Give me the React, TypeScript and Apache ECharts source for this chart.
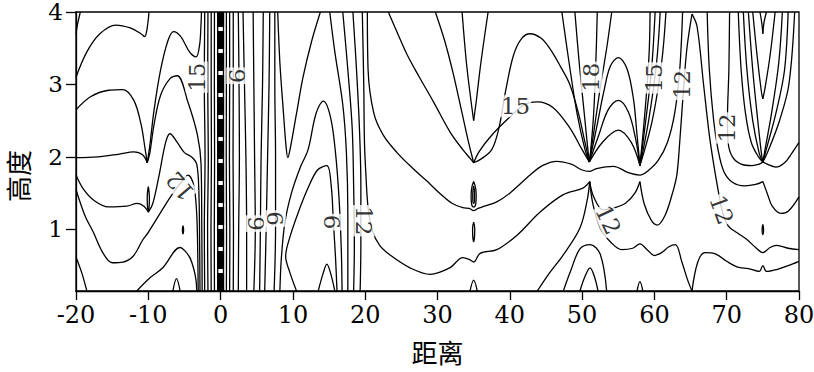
import { useEffect, useRef } from "react";
import * as echarts from "echarts";

type Pt = [number, number];

const xTickValues = [-20, -10, 0, 10, 20, 30, 40, 50, 60, 70, 80];
const yTickValues = [1, 2, 3, 4];
const xRange: Pt = [-20, 80];
const yRange: Pt = [0.15, 4];

// x < -2.5 : left side lines
const leftLines: Pt[][] = [
  [[-19.4, 4], [-19.75, 3.85], [-20, 3.7]],
  [[-20, 3.1], [-18.5, 3.45], [-16.7, 3.7], [-14.5, 3.82], [-12.5, 3.78], [-11, 3.7], [-10.5, 3.66], [-10.2, 3.75], [-9.9, 4]],
  [[-20, 2.65], [-18, 2.83], [-15.5, 2.92], [-13.5, 2.93], [-12, 2.78], [-11, 2.45], [-10.5, 2.15], [-10.15, 1.92]],
  [[-10.15, 1.92], [-9.8, 2.15], [-9.2, 2.65], [-8.3, 3.2], [-7.3, 3.6], [-6.5, 3.73], [-5.5, 3.66], [-4.3, 3.45], [-3.4, 3.38], [-2.9, 3.55], [-2.7, 3.85], [-2.65, 4]],
  [[-20, 1.99], [-17, 2.0], [-14, 2.04], [-12, 2.07], [-10.8, 2.03], [-10.15, 1.92]],
  [[-10.15, 1.92], [-9.8, 2.05], [-9.2, 2.45], [-8.3, 2.85], [-7, 3.08], [-6, 3.12], [-4.5, 2.75], [-3.2, 2.3], [-2.7, 1.9], [-2.6, 1.0], [-2.55, 0.15]],
  [[-20, 1.75], [-19, 1.56], [-17.5, 1.4], [-15.5, 1.31], [-13, 1.32], [-11.5, 1.36], [-10.6, 1.32], [-10, 1.24]],
  [[-10, 1.24], [-9.4, 1.35], [-8.5, 1.75], [-7.6, 2.2], [-7, 2.32], [-6, 2.2], [-5, 2.06], [-4, 2.0], [-3.3, 1.9], [-3.0, 1.5], [-2.9, 0.8], [-2.85, 0.15]],
  [[-20, 1.55], [-18.8, 1.2], [-17.6, 0.96], [-16.3, 0.68], [-15, 0.54], [-13.5, 0.55], [-12.1, 0.63], [-10.8, 0.85], [-10, 0.96], [-8.5, 1.2], [-7, 1.44], [-5.6, 1.63], [-4.5, 1.75], [-3.7, 1.6], [-3.3, 1.2], [-3.15, 0.6], [-3.1, 0.15]],
  [[-20, 0.62], [-19.2, 0.4], [-18.5, 0.15]],
  [[-11.6, 0.15], [-9.8, 0.33], [-8, 0.47], [-5.6, 0.75], [-4.9, 0.7], [-4.2, 0.6], [-3.7, 0.45], [-3.4, 0.3], [-3.3, 0.15]],
  [[-6.6, 0.15], [-6.1, 0.32], [-5.6, 0.15]],
];

// dense bundle around x = 0
const bundleLines: Pt[][] = [
  [[-2.2, 0.15], [-2.25, 1], [-2.15, 2], [-2.25, 3], [-2.2, 4]],
  [[-1.75, 0.15], [-1.8, 1], [-1.7, 2], [-1.78, 3], [-1.75, 4]],
  [[-1.3, 0.15], [-1.33, 1], [-1.27, 2], [-1.3, 3], [-1.3, 4]],
  [[-0.85, 0.15], [-0.87, 1], [-0.83, 2], [-0.86, 3], [-0.85, 4]],
  [[-0.4, 0.15], [-0.4, 2], [-0.4, 4]],
  [[0.4, 0.15], [0.4, 2], [0.4, 4]],
  [[0.8, 0.15], [0.82, 1], [0.78, 2], [0.8, 3], [0.8, 4]],
  [[1.25, 0.15], [1.28, 1], [1.22, 2], [1.25, 3], [1.25, 4]],
  [[1.75, 0.15], [1.78, 1], [1.72, 2], [1.75, 3], [1.75, 4]],
];
const ridgeLine: Pt[] = [[0, 0.15], [0, 4]];

// 2 < x < 21
const midLines: Pt[][] = [
  [[2.45, 4], [2.55, 3], [2.6, 2], [2.5, 1], [2.45, 0.15]],
  [[3.1, 4], [3.3, 3], [3.5, 2], [3.6, 1], [3.6, 0.15]],
  [[4.5, 4], [4.6, 3], [4.7, 2], [4.8, 1], [4.6, 0.15]],
  [[5.9, 4], [5.8, 3], [5.6, 2], [5.5, 1], [5.4, 0.15]],
  [[6.8, 4], [6.7, 3], [6.5, 2], [6.3, 1], [6.1, 0.15]],
  [[7.5, 4], [7.5, 3], [7.6, 2], [7.6, 1], [7.4, 0.15]],
  [[7.9, 4], [8.2, 3.3], [8.7, 2.6], [9.05, 2.15], [9.3, 1.99], [9.6, 2.1], [10.5, 2.6], [11.4, 3.1], [12.6, 3.6], [13.8, 4]],
  [[8.2, 0.15], [8.4, 0.6], [8.9, 1.1], [9.8, 1.5], [11, 1.85], [12.1, 2.1], [13.2, 2.6], [14.2, 2.77], [15.2, 2.55], [15.9, 2.05], [16.4, 1.4], [16.7, 0.7], [16.8, 0.15]],
  [[10.5, 0.15], [9.6, 0.4], [9.0, 0.63], [9.6, 0.9], [10.8, 1.25], [12, 1.55], [13.4, 1.82], [14.7, 1.88], [15.3, 1.6], [15.6, 1.1], [15.9, 0.6], [16.1, 0.15]],
  [[13.5, 0.15], [14.2, 0.4], [14.7, 0.52], [15.2, 0.4], [15.8, 0.15]],
  [[15.1, 4], [15.8, 3.45], [16.9, 2.72], [17.4, 2.06], [17.6, 1.2], [17.6, 0.15]],
  [[16.9, 4], [17.6, 3.2], [18.2, 2.4], [18.4, 1.6], [18.5, 0.8], [18.4, 0.15]],
  [[18.3, 4], [18.8, 3.2], [19.2, 2.4], [19.4, 1.6], [19.4, 0.8], [19.3, 0.15]],
];

// contour 12 running from x = 20 to the cusp at 51 and on to 80
const line12: Pt[] = [[19.6, 4], [19.8, 3.0], [19.9, 2.2], [20.1, 1.75], [20.4, 1.3], [21, 0.98], [22, 0.78], [23.4, 0.65], [26.2, 0.47], [29, 0.38], [31.7, 0.47], [33.5, 0.61], [34.5, 0.58], [35, 0.55], [35.9, 0.67], [38.2, 0.72], [41, 0.92], [44.2, 1.24], [47.4, 1.48], [50.1, 1.57], [51.05, 1.66]];
const line12b: Pt[] = [[51.05, 1.66], [51.6, 1.45], [52.9, 1.27], [54.5, 1.3], [56, 1.36], [57.3, 1.5], [58, 1.66]];
const line12c: Pt[] = [[58, 1.66], [58.6, 1.35], [59.6, 1.12], [60.4, 1.06], [61.5, 1.2], [62.5, 1.5], [63.1, 1.75], [63.5, 2.2], [64, 2.9], [64.5, 3.5], [65.2, 3.97]];
const line12d: Pt[] = [[65.2, 3.97], [65.9, 3.8], [66.8, 3.0], [67.6, 2.3], [68.2, 1.9], [68.8, 1.55], [69.4, 1.25], [70.2, 1.05], [71.5, 0.95], [72.8, 0.86], [74, 0.75], [75, 0.68], [76, 0.75], [76.9, 0.78], [78.5, 0.74], [80, 0.72]];

// line passing below the cusps from x = 20
const lineUnder: Pt[] = [[20.3, 4], [20.4, 3.2], [21.2, 2.6], [22.5, 2.3], [24.4, 2.06], [26.5, 1.85], [28.5, 1.67], [30.3, 1.5], [32, 1.36], [33.5, 1.3], [34.4, 1.29], [35, 1.26], [35.6, 1.29], [36.5, 1.32], [38.2, 1.38], [40, 1.5], [42.8, 1.75], [44.5, 1.88], [46.5, 1.94], [48.5, 1.9], [50, 1.82], [51, 1.8], [52, 1.84], [54.3, 1.87], [56.5, 1.78], [58, 1.75], [59, 1.8], [60.5, 1.95], [61.8, 2.2], [62.8, 2.6], [63.5, 3.2], [63.9, 4]];

// cusp at x = 35
const cusp35Lines: Pt[][] = [
  [[23.2, 4], [24.5, 3.7], [25.8, 3.41], [27.5, 3.1], [29.5, 2.75], [31.7, 2.35], [33.5, 2.1], [34.6, 1.97], [35, 1.92]],
  [[29.7, 4], [31, 3.6], [32.1, 3.18], [33.3, 2.65], [34.3, 2.2], [35, 1.92]],
  [[33.4, 4], [34, 3.3], [34.6, 2.8], [35, 2.5]],
  [[35, 2.5], [35.4, 2.8], [36, 3.3], [37, 4]],
  [[35, 1.92], [36, 1.97], [37.5, 2.1], [38.5, 2.4], [39.4, 2.9], [40.5, 3.4], [41.6, 3.63], [42.8, 3.7], [44.3, 3.64], [45.5, 3.5], [47, 3.25], [48.3, 3.0], [49.5, 2.6], [50.4, 2.2], [51, 1.93]],
  [[35, 1.92], [35.8, 2.08], [37.5, 2.3], [40, 2.55], [42, 2.72], [43.8, 2.76], [46, 2.68], [48.3, 2.4], [50, 2.1], [51, 1.93]],
  [[34.5, 0.15], [35, 0.3], [35.5, 0.15]],
];

// cusps at x = 51 and 58
const cusp51Lines: Pt[][] = [
  [[47.2, 4], [48.2, 3.3], [49.3, 2.6], [50.4, 2.1], [51, 1.93]],
  [[49, 4], [49.6, 3.3], [50.3, 2.6], [50.8, 2.1], [51, 1.93]],
  [[51, 1.93], [51.2, 2.1], [51.6, 2.6], [51.9, 3.3], [52.1, 4]],
  [[51, 1.93], [51.7, 2.4], [52.5, 2.95], [53.4, 3.5], [54.1, 4]],
  [[51, 1.93], [52, 2.4], [53, 2.9], [53.9, 3.25], [55, 3.37], [56.2, 3.22], [57.1, 2.8], [57.6, 2.3], [58, 1.88]],
  [[51, 1.93], [52.3, 2.3], [53.6, 2.65], [55, 2.78], [56.4, 2.62], [57.4, 2.25], [58, 1.88]],
  [[51, 1.93], [52.8, 2.2], [55, 2.37], [56.8, 2.2], [58, 1.88]],
  [[58, 1.88], [58.5, 2.4], [59, 3.0], [59.3, 3.5], [59.4, 4]],
  [[58, 1.88], [58.8, 2.5], [59.6, 3.2], [60.1, 4]],
  [[58, 1.88], [59.2, 2.5], [60.3, 3.3], [60.8, 4]],
  [[58, 1.88], [59.7, 2.5], [61, 3.3], [61.6, 4]],
  [[43.8, 0.15], [45.5, 0.4], [47.4, 0.65], [49.7, 1.02], [50.7, 1.4], [51.05, 1.66]],
  [[51.05, 1.66], [51.5, 1.35], [52.5, 1.02], [54, 0.82], [55.5, 0.72], [57, 0.74], [58, 0.8], [59, 0.72], [60, 0.64], [61, 0.68], [62, 0.76], [62.9, 0.79], [63.8, 0.55], [64.6, 0.3], [65.2, 0.15]],
  [[47.4, 0.15], [48.5, 0.45], [49.7, 0.73], [51.1, 0.79], [52.5, 0.66], [53.4, 0.15]],
  [[49.7, 0.15], [50.4, 0.35], [51.1, 0.47], [51.7, 0.35], [52.2, 0.15]],
  [[57.6, 0.15], [58, 0.28], [58.4, 0.15]],
];

// x > 65
const farRightLines: Pt[][] = [
  [[74.6, 4], [74.85, 3.85], [75, 3.7]],
  [[75, 3.7], [75.15, 3.85], [75.5, 4]],
  [[73.6, 4], [74.2, 3.4], [74.8, 2.9], [75, 2.8]],
  [[75, 2.8], [75.3, 2.95], [76, 3.4], [76.7, 4]],
  [[73, 4], [73.6, 3.2], [74.3, 2.5], [74.8, 2.05], [75, 1.93]],
  [[75, 1.93], [75.3, 2.1], [76.2, 2.6], [77.2, 3.3], [77.7, 4]],
  [[72.3, 4], [72.8, 3.2], [73.6, 2.5], [74.5, 2.05], [75, 1.93]],
  [[75, 1.93], [75.6, 2.15], [76.8, 2.6], [78, 3.2], [78.5, 4]],
  [[71.6, 4], [72, 3.2], [72.6, 2.6], [73.4, 2.2], [74.4, 2.0], [75, 1.93]],
  [[75, 1.93], [75.8, 2.1], [77.3, 2.5], [78.6, 3.0], [79.4, 4]],
  [[70.4, 4], [70.3, 3.2], [70.1, 2.5], [70.2, 2.2], [70.8, 2.0], [72, 1.9], [73.5, 1.88], [74.5, 1.9], [75, 1.93]],
  [[75, 1.93], [75.6, 1.9], [76.8, 1.86], [78, 1.92], [79, 2.05], [80, 2.2]],
  [[67.3, 4], [67.6, 3.2], [68.2, 2.5], [68.8, 2.1], [69.6, 1.8], [70.8, 1.65], [72.5, 1.6], [74, 1.62], [75, 1.66]],
  [[75, 1.66], [75.6, 1.5], [76.3, 1.32], [77.5, 1.22], [78.5, 1.25], [80, 1.45]],
  [[65.2, 0.15], [66, 0.55], [67, 0.68], [68.5, 0.66], [70, 0.56], [71.5, 0.48], [73, 0.46], [74.5, 0.42], [75, 0.5], [75.5, 0.42], [77, 0.45], [78.5, 0.5], [80, 0.56]],
];

const loops: Pt[][] = [
  [[-10, 1.59], [-9.88, 1.5], [-9.85, 1.42], [-9.88, 1.33], [-10, 1.24], [-10.12, 1.33], [-10.15, 1.42], [-10.12, 1.5], [-10, 1.59]],
  [[35, 1.66], [35.3, 1.55], [35.35, 1.45], [35.3, 1.36], [35, 1.31], [34.7, 1.36], [34.65, 1.45], [34.7, 1.55], [35, 1.66]],
  [[35, 1.6], [35.12, 1.5], [35.12, 1.42], [35, 1.36], [34.88, 1.42], [34.88, 1.5], [35, 1.6]],
  [[35, 1.1], [35.15, 1.0], [35, 0.83], [34.85, 1.0], [35, 1.1]],
  [[-5.2, 1.05], [-5.12, 1.0], [-5.2, 0.94], [-5.28, 1.0], [-5.2, 1.05]],
  [[75, 1.07], [75.1, 1.0], [75, 0.93], [74.9, 1.0], [75, 1.07]],
];

const labelTexts = ["15", "9", "12", "9", "6", "6", "12", "15", "18", "15", "12", "12", "12", "12"];
const labelX = [-3.3, 2.3, -5.6, 4.9, 7.5, 15.4, 19.8, 40.8, 51.3, 60.0, 63.8, 53.6, 70.0, 69.3];
const labelY = [3.1, 3.12, 1.6, 1.08, 1.15, 1.1, 1.12, 2.7, 3.1, 3.09, 3.0, 1.13, 2.4, 1.27];
const labelRotate = [90, -90, 130, -90, -90, -90, -90, 0, 90, 90, 90, -65, 90, -70];

export default function App() {
  const ref = useRef<HTMLDivElement>(null);
  useEffect(() => {
    if (!ref.current) return;
    const chart = echarts.init(ref.current, undefined, { renderer: "svg" });
    const serif = "DejaVu Serif";
    const allLines: Pt[][] = [
      ...leftLines, ...bundleLines, ...midLines, line12, line12b, line12c, line12d, lineUnder,
      ...cusp35Lines, ...cusp51Lines, ...farRightLines,
    ];
    const series: any[] = allLines.map((d) => ({
      type: "line",
      data: d,
      showSymbol: false,
      symbol: "none",
      smooth: 0.35,
      silent: true,
      lineStyle: { color: "#000", width: 1.3 },
      z: 2,
    }));
    loops.forEach((d) => series.push({
      type: "line", data: d, showSymbol: false, symbol: "none", smooth: 0.5, silent: true,
      lineStyle: { color: "#000", width: 1.3 }, z: 2,
    }));
    series.push({
      type: "line", data: ridgeLine, showSymbol: false, symbol: "none", silent: true,
      lineStyle: { color: "#000", width: 7, type: [18, 4] }, z: 3,
    });
    series.push({
      type: "scatter",
      silent: true,
      symbolSize: 1,
      itemStyle: { color: "rgba(0,0,0,0)" },
      z: 5,
      data: labelTexts.map((t, i) => ({
        value: [labelX[i], labelY[i]],
        label: {
          show: true,
          position: "inside",
          formatter: t,
          rotate: labelRotate[i],
          fontFamily: serif,
          fontSize: 23,
          color: "#000",
          backgroundColor: "#fff",
          padding: [0, 1],
          lineHeight: 22,
        },
      })),
    });
    chart.setOption({
      animation: false,
      backgroundColor: "#fff",
      grid: {
        left: 76, right: 15, top: 12, bottom: 81, outerBoundsMode: "none", containLabel: false,
        show: true, borderColor: "#000", borderWidth: 1.3, backgroundColor: "transparent",
      },
      xAxis: {
        type: "value", min: xRange[0], max: xRange[1], interval: 10,
        axisLine: { show: true, onZero: false, lineStyle: { color: "#000", width: 1.3 } },
        axisTick: { show: true, inside: false, length: 9, lineStyle: { color: "#000", width: 1.3 } },
        axisLabel: { color: "#000", fontFamily: serif, fontSize: 24, margin: 12, customValues: xTickValues },
        splitLine: { show: false },
        name: "距离", nameLocation: "middle", nameGap: 47,
        nameTextStyle: { color: "#000", fontFamily: "Noto Sans CJK SC", fontSize: 26 },
      },
      yAxis: {
        type: "value", min: yRange[0], max: yRange[1],
        axisLine: { show: true, onZero: false, lineStyle: { color: "#000", width: 1.3 } },
        axisTick: { show: true, inside: false, length: 10, customValues: yTickValues, lineStyle: { color: "#000", width: 1.3 } },
        axisLabel: { color: "#000", fontFamily: serif, fontSize: 23, lineHeight: 18, margin: 13, customValues: yTickValues },
        splitLine: { show: false },
      },
      graphic: [{
        type: "text", x: 17, y: 176, rotation: Math.PI / 2,
        style: { text: "高度", font: "26px Noto Sans CJK SC", fill: "#000", align: "center", verticalAlign: "middle" },
      }],
      series,
    });
    return () => chart.dispose();
  }, []);
  return <div ref={ref} style={{ width: 814, height: 372, position: "absolute", left: 0, top: 0 }} />;
}
